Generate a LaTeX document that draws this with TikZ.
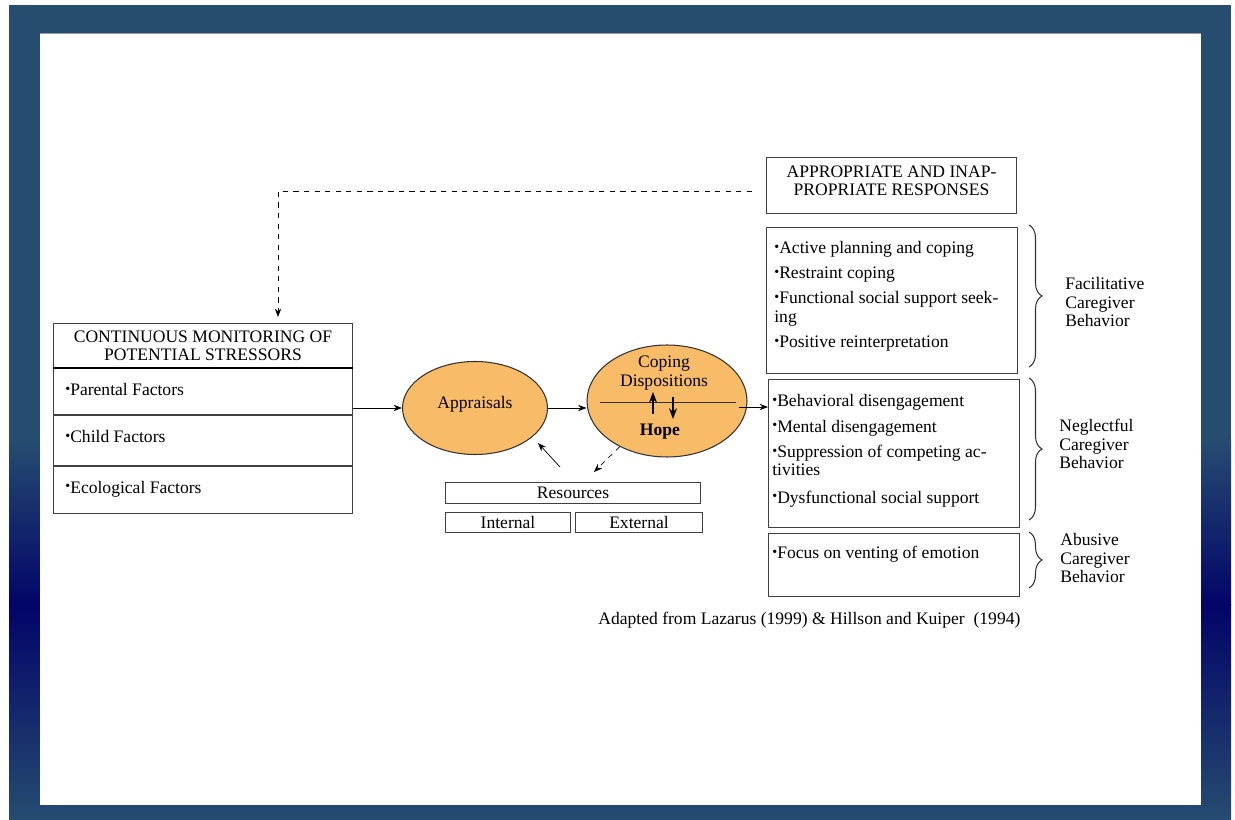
\documentclass[tikz,border=0pt]{standalone}
\usepackage{fontspec}
\setmainfont{Liberation Serif}
\usetikzlibrary{shapes.geometric,arrows.meta,decorations.pathreplacing,calc,positioning}
\definecolor{frameblue}{RGB}{38,76,112}
\definecolor{framenavy}{RGB}{2,4,104}
\definecolor{ovalfill}{RGB}{248,188,104}
\newcommand{\bul}{\raisebox{.3ex}{\fontsize{8}{8}\selectfont\textbullet}}
\tikzset{
  box/.style={draw=black!75,line width=.6pt,rectangle,inner sep=0pt,anchor=north west},
  oval/.style={ellipse,draw=black!80,line width=.6pt,fill=ovalfill,inner sep=0pt},
  txt/.style={inner sep=0pt,align=left,anchor=north west,
    font=\fontsize{10}{12}\selectfont},
  side/.style={inner sep=0pt,align=left,anchor=west,
    font=\fontsize{10}{10.4}\selectfont},
  bracket/.style={decorate,decoration={brace,amplitude=0.26cm},line width=.6pt,black!80}
}
\begin{document}
\begin{tikzpicture}[x=0.02cm,y=-0.02cm,font=\fontsize{10}{12}\selectfont,>=Stealth]
  \useasboundingbox (0,0) rectangle (1235,820);
  % frame
  \fill[frameblue] (9,5) rectangle (1231,441);
  \shade[top color=frameblue,bottom color=framenavy] (9,440) rectangle (1231,606);
  \shade[top color=framenavy,bottom color=frameblue] (9,605) rectangle (1231,820);
  \fill[white] (40,33) rectangle (1201,805);
  \draw[black!40] (40,33) -- (1201,33);
  % monitoring box
  \node[box,minimum width=5.98cm,minimum height=0.88cm,align=center] (montitle) at (53,323)
    {CONTINUOUS MONITORING OF\\[-2pt]POTENTIAL STRESSORS};
  \node[box,minimum width=5.98cm,minimum height=0.92cm,anchor=north,below=0pt of montitle] (par) {};
  \node[box,minimum width=5.98cm,minimum height=1.0cm,anchor=north,below=0pt of par] (chi) {};
  \node[box,minimum width=5.98cm,minimum height=0.94cm,anchor=north,below=0pt of chi] (eco) {};
  \node[side] at ($(par.west)+(12,-2)$) (partxt) {\bul Parental Factors};
  \node[side] at ($(chi.west)+(12,-4)$) (chitxt) {\bul Child Factors};
  \node[side] at ($(eco.west)+(12,-1)$) (ecotxt) {\bul Ecological Factors};
  \draw[line width=1.3pt] (montitle.south west) -- (montitle.south east);
  % ovals
  \node[oval,minimum width=2.9cm,minimum height=1.86cm] (appr) at (475,408) {};
  \node[inner sep=0pt] at (475,404) (apprtxt) {Appraisals};
  \node[oval,minimum width=3.2cm,minimum height=2.24cm] (cop) at (667,401) {};
  \node[inner sep=0pt,align=center,font=\fontsize{10}{10.6}\selectfont] at (664,373) (coptxt) {Coping\\Dispositions};
  \node[inner sep=0pt,font=\bfseries] at (660,432) (hope) {Hope};
  \draw[black!80] ($(cop.center)+(-67,1)$) -- ($(cop.center)+(69,1)$);
  \draw[->,line width=.7pt] (653,414) -- (653,392);
  \draw[->,line width=.7pt] (673,397) -- (673,419);
  % resources
  \node[box,minimum width=5.1cm,minimum height=0.42cm] (res) at (445,482) {};
  \node[inner sep=0pt] at (res.center) (restxt) {Resources};
  \node[box,minimum width=2.5cm,minimum height=0.4cm] (int) at (445,512) {};
  \node[inner sep=0pt] at (int.center) (inttxt) {Internal};
  \node[box,minimum width=2.54cm,minimum height=0.4cm] (ext) at (575,512) {};
  \node[inner sep=0pt] at (ext.center) (exttxt) {External};
  % responses
  \node[box,minimum width=5.0cm,minimum height=1.12cm] (app) at (766,157) {};
  \node[inner sep=0pt,align=center,font=\fontsize{10}{10.4}\selectfont] at ($(app.north)+(0,24)$) (apptxt)
    {APPROPRIATE AND INAP-\\PROPRIATE RESPONSES};
  \node[box,minimum width=5.02cm,minimum height=2.92cm] (fac) at (766,227) {};
  \node[txt] at ($(fac.north west)+(8,14)$) (factxt)
    {\bul Active planning and coping\\[2.2pt]
     \bul Restraint coping\\[2.2pt]
     \bul Functional social support seek-\\[-1pt]
     ing\\[2.2pt]
     \bul Positive reinterpretation};
  \node[box,minimum width=5.02cm,minimum height=2.96cm] (neg) at (768,379) {};
  \node[txt] at ($(neg.north west)+(4,15)$) (negtxt)
    {\bul Behavioral disengagement\\[2.6pt]
     \bul Mental disengagement\\[2.4pt]
     \bul Suppression of competing ac-\\[-1.5pt]
     tivities\\[3.5pt]
     \bul Dysfunctional social support};
  \node[box,minimum width=5.02cm,minimum height=1.26cm] (abu) at (768,533) {};
  \node[txt] at ($(abu.north west)+(4,13)$) (abutxt) {\bul Focus on venting of emotion};
  % braces
  \draw[bracket] (1029,225) -- (1029,367);
  \draw[bracket] (1029,378) -- (1029,520);
  \draw[bracket] (1029,532) -- (1029,588);
  \node[side] at (1065,302) (facside) {Facilitative\\Caregiver\\Behavior};
  \node[side] at (1059,444) (negside) {Neglectful\\Caregiver\\Behavior};
  \node[side] at (1060,558) (abuside) {Abusive\\Caregiver\\Behavior};
  \node[inner sep=0pt,anchor=west] at (598,620) (src) {Adapted from Lazarus (1999) \& Hillson and Kuiper~ (1994)};
  % connectors
  \draw[->] (appr.west -| par.east) -- (appr.west);
  \draw[->] (appr.east) -- (appr.east -| cop.west);
  \draw[->] ($(cop.east)+(-9,6)$) -- ($(cop.east -| neg.west)+(0,6)$);
  \coordinate (rsa) at ($(res.north)+(-13,-15)$);
  \coordinate (rsb) at ($(appr.center)+(63,35)$);
  \draw[->] (rsa) -- (rsb);
  \coordinate (rsc) at ($(res.north)+(21,-10)$);
  \draw[->,dashed] (cop.224) -- (rsc);
  \coordinate (fbs) at ($(app.west)+(-14,6)$);
  \coordinate (fbe) at ($(montitle.north)+(75,-6)$);
  \draw[->,dashed] (fbs) -| (fbe);
\end{tikzpicture}
\end{document}
